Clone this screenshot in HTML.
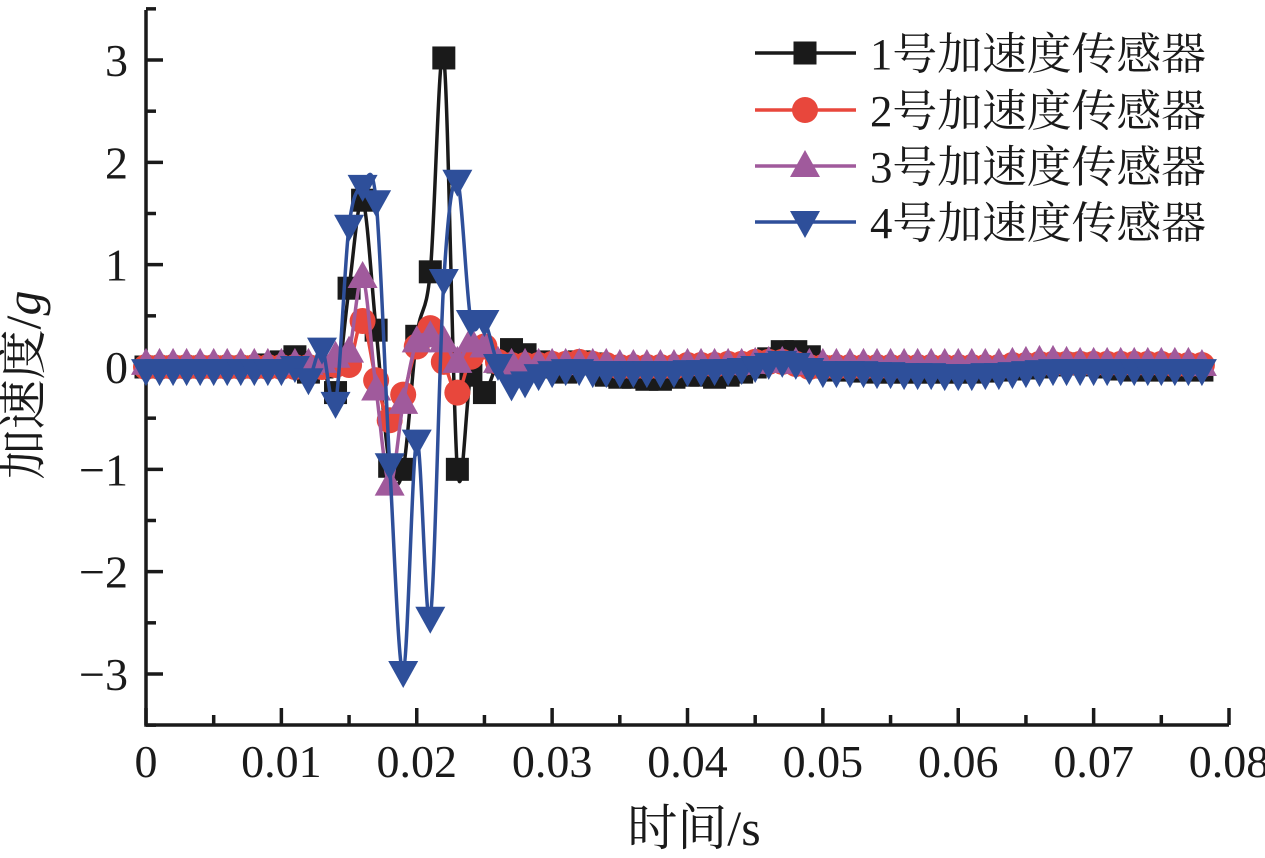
<!DOCTYPE html>
<html><head><meta charset="utf-8">
<style>
html,body{margin:0;padding:0;background:#fff;}
svg{display:block;}
text{font-family:"Liberation Serif","Noto Serif CJK SC",serif;fill:#1a1a1a;}
</style></head>
<body>
<svg id="chart" width="1265" height="858" viewBox="0 0 1265 858">
<g id="axes"></g>
<g id="series"></g>
<g id="legend"></g>
<text x="40" y="385" font-size="50" text-anchor="middle" transform="rotate(-90 40 385)">加速度/<tspan font-style="italic">g</tspan></text>
<text x="694" y="845" font-size="50" text-anchor="middle">时间/s</text>
</svg>
<script>
const xTicks=[0,0.01,0.02,0.03,0.04,0.05,0.06,0.07,0.08];
const xTickLabels=["0","0.01","0.02","0.03","0.04","0.05","0.06","0.07","0.08"];
const yTicks=[-3,-2,-1,0,1,2,3];
const yTickLabels=["\u22123","\u22122","\u22121","0","1","2","3"];
const seriesNames=["1号加速度传感器","2号加速度传感器","3号加速度传感器","4号加速度传感器"];
const s1=[0,0,0,0,0,0,0,0,0,0.02,0.05,0.1,-0.05,0,-0.25,0.77,1.63,0.36,-0.97,-1.0,0.3,0.93,3.02,-1.0,-0.08,-0.25,0.05,0.17,0.12,0.05,0,-0.05,0.05,0.03,-0.08,-0.1,-0.1,-0.12,-0.12,-0.1,-0.08,-0.08,-0.1,-0.08,-0.05,0,0.08,0.15,0.15,0.1,0,-0.03,-0.03,-0.04,-0.05,-0.05,-0.05,-0.05,-0.05,-0.05,-0.05,-0.05,-0.04,-0.03,-0.02,-0.01,0,0.02,0.03,0.03,0.02,0,-0.02,-0.03,-0.03,-0.03,-0.03,-0.03,-0.03];
const s2=[0,0,0,0,0,0,0,0,0,0,0,0,0,0,0.02,0.02,0.45,-0.13,-0.52,-0.27,0.2,0.38,0.05,-0.25,0.1,0.2,0.05,0.02,0.02,0.02,0.03,0.03,0.05,0.03,0.02,0,0,0,0,0,0.02,0.02,0.02,0.03,0.03,0.05,0.05,0.05,0.03,0,0,0,0,0,0,0,0,0,0,0,0,0,0,0,0.02,0.02,0.03,0.03,0.03,0.03,0.03,0.03,0.03,0.03,0.03,0.03,0.02,0.02,0.02];
const s3=[0.03,0.03,0.03,0.03,0.03,0.03,0.03,0.03,0.03,0.03,0.03,0.03,0.03,0.05,0.1,0.15,0.88,-0.22,-1.15,-0.35,0.25,0.3,0.25,0.05,0.25,0.2,0.05,0.03,0.03,0.03,0.03,0.03,0.03,0.03,0.03,0.02,0.02,0.02,0.02,0.02,0.03,0.03,0.03,0.03,0.03,0.04,0.05,0.05,0.04,0.03,0.03,0.03,0.03,0.03,0.03,0.03,0.03,0.03,0.03,0.03,0.03,0.03,0.03,0.03,0.04,0.05,0.06,0.06,0.05,0.04,0.04,0.04,0.04,0.04,0.04,0.04,0.04,0.04,0.02];
const s4=[-0.03,-0.03,-0.03,-0.03,-0.03,-0.03,-0.03,-0.03,-0.03,-0.03,-0.03,0,-0.12,0.18,-0.35,1.38,1.77,1.62,-0.95,-2.98,-0.72,-2.45,0.85,1.82,0.45,0.45,0.02,-0.18,-0.15,-0.08,-0.05,-0.03,-0.03,-0.05,-0.05,-0.05,-0.05,-0.05,-0.05,-0.05,-0.04,-0.04,-0.03,-0.03,-0.02,0,0.03,0.05,0.03,-0.02,-0.05,-0.05,-0.05,-0.05,-0.06,-0.06,-0.07,-0.07,-0.07,-0.08,-0.08,-0.08,-0.07,-0.07,-0.06,-0.05,-0.04,-0.03,-0.03,-0.03,-0.03,-0.03,-0.03,-0.03,-0.03,-0.03,-0.03,-0.03,-0.03];
const dt=0.001;

const NS="http://www.w3.org/2000/svg";
const X0=146,X1=1229,YT=10,YB=725;
function xs(v){return X0+(v/0.08)*(X1-X0);}
function ys(v){return 367-v*102.33;}
function mk(tag,attrs,parent){const e=document.createElementNS(NS,tag);for(const k in attrs)e.setAttribute(k,attrs[k]);parent.appendChild(e);return e;}
const axes=document.getElementById('axes');
let el=mk('path',{d:`M${X0},${YT} V${YB} H${X1}`,fill:'none',stroke:'#1a1a1a','stroke-width':3.5},axes);


for(let i=0;i<yTicks.length;i++){
  const y=ys(yTicks[i]);
  el=mk('line',{x1:X0,x2:X0+17,y1:y,y2:y,stroke:'#1a1a1a','stroke-width':3.5},axes);
  
  
  el=mk('text',{x:X0-18,y:y+16,'font-size':46,'text-anchor':'end'},axes);
  el.textContent=yTickLabels[i];
  
  
}
for(let v=-3.5;v<=3.5;v+=1){
  const y=ys(v);
  el=mk('line',{x1:X0,x2:X0+10,y1:y,y2:y,stroke:'#1a1a1a','stroke-width':3.5},axes);
  
  
}
for(let i=0;i<xTicks.length;i++){
  const x=xs(xTicks[i]);
  el=mk('line',{x1:x,x2:x,y1:YB,y2:YB-17,stroke:'#1a1a1a','stroke-width':3.5},axes);
  
  
  el=mk('text',{x:x,y:YB+52,'font-size':46,'text-anchor':'middle'},axes);
  el.textContent=xTickLabels[i];
  
  
  if(i<xTicks.length-1){
    const xm=xs(xTicks[i]+0.005);
    el=mk('line',{x1:xm,x2:xm,y1:YB,y2:YB-10,stroke:'#1a1a1a','stroke-width':3.5},axes);
    
    
  }
}
const colors=['#1a1a1a','#e8473c','#a05a9c','#2e4f9a'];
const shapes=['square','circle','up','down'];
function marker(shape,x,y,c,parent){
  let e;
  if(shape==='square')e=mk('rect',{x:x-11.5,y:y-11.5,width:23,height:23,fill:c},parent);
  else if(shape==='circle')e=mk('circle',{cx:x,cy:y,r:13,fill:c},parent);
  else if(shape==='up')e=mk('polygon',{points:`${x},${y-16} ${x-15},${y+11} ${x+15},${y+11}`,fill:c},parent);
  else e=mk('polygon',{points:`${x},${y+16} ${x-15},${y-11} ${x+15},${y-11}`,fill:c},parent);
  return e;
}
function spline(pts){
  let d=`M${pts[0][0]},${pts[0][1]}`;
  for(let i=0;i<pts.length-1;i++){
    const p0=pts[Math.max(0,i-1)],p1=pts[i],p2=pts[i+1],p3=pts[Math.min(pts.length-1,i+2)];
    const c1x=p1[0]+(p2[0]-p0[0])/6,c1y=p1[1]+(p2[1]-p0[1])/6;
    const c2x=p2[0]-(p3[0]-p1[0])/6,c2y=p2[1]-(p3[1]-p1[1])/6;
    d+=` C${c1x},${c1y} ${c2x},${c2y} ${p2[0]},${p2[1]}`;
  }
  return d;
}
const all=[s1,s2,s3,s4];
const sg=document.getElementById('series');
all.forEach((s,k)=>{
  const g=mk('g',{},sg);
  
  
  const pts=s.map((v,i)=>[xs(i*dt),ys(v)]);
  const p=mk('path',{d:spline(pts),fill:'none',stroke:colors[k],'stroke-width':3.5},g);
  
  
  pts.forEach(pt=>{
    const m=marker(shapes[k],pt[0],pt[1],colors[k],g);
    
    
  });
});
const lg=document.getElementById('legend');
const rowY=[53,110,166,222];
seriesNames.forEach((n,k)=>{
  const g=mk('g',{},lg);
  
  
  mk('line',{x1:755,x2:856,y1:rowY[k],y2:rowY[k],stroke:colors[k],'stroke-width':3.5},g);
  marker(shapes[k],805,rowY[k],colors[k],g);
  const t=mk('text',{x:870,y:rowY[k]+16,'font-size':44,textLength:336,lengthAdjust:'spacingAndGlyphs'},g);
  t.textContent=n;
  
  
});
</script>
</body></html>
